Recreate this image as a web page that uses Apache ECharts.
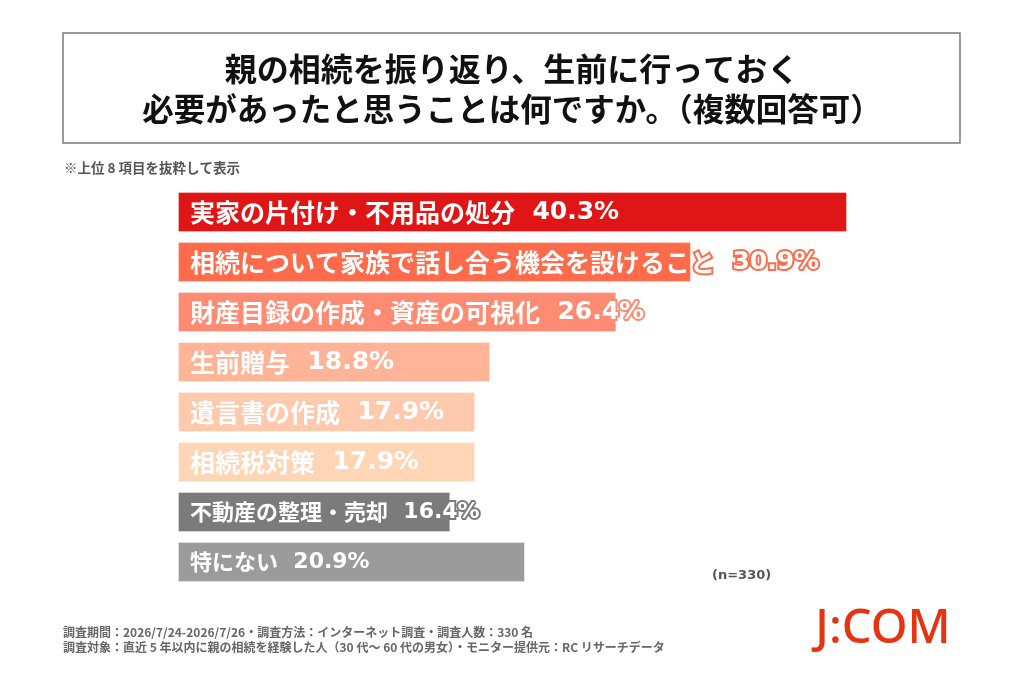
<!DOCTYPE html>
<html>
<head>
<meta charset="utf-8">
<script src="https://cdn.jsdelivr.net/npm/echarts@6/dist/echarts.min.js"></script>
<style>
html,body{margin:0;padding:0;background:#fff;}
#chart{width:1024px;height:683px;}
</style>
</head>
<body>
<div id="chart"></div>
<script>
const titleLines = ['親の相続を振り返り、生前に行っておく', '必要があったと思うことは何ですか。（複数回答可）'];
const noteText = '※上位 8 項目を抜粋して表示';
const categories = ['実家の片付け・不用品の処分', '相続について家族で話し合う機会を設けること', '財産目録の作成・資産の可視化', '生前贈与', '遺言書の作成', '相続税対策', '不動産の整理・売却', '特にない'];
const values = [40.3, 30.9, 26.4, 18.8, 17.9, 17.9, 16.4, 20.9];
const barColors = ['#E01515', '#FF6B4B', '#FF8B72', '#FFB497', '#FFC9AD', '#FFD6B5', '#7B7B7B', '#9B9B9B'];
const labelSizes = [25, 25, 25, 25, 25, 25, 22, 22];
const sampleText = '(n=330)';
const footerLines = ['調査期間：2026/7/24-2026/7/26・調査方法：インターネット調査・調査人数：330 名', '調査対象：直近 5 年以内に親の相続を経験した人（30 代～ 60 代の男女）・モニター提供元：RC リサーチデータ'];
const logoText = 'J:COM';

const FONT = '"Noto Sans CJK JP", "Noto Sans", sans-serif';
const NUMFONT = '"DejaVu Sans", sans-serif';
const chart = echarts.init(document.getElementById('chart'));

const seriesData = values.map((v, i) => ({
  value: v,
  itemStyle: { color: barColors[i], borderColor: 'rgba(255,255,255,0.35)', borderWidth: 1 },
  label: {
    rich: {
      n: { color: '#fff', fontSize: labelSizes[i], fontWeight: 'bold', fontFamily: FONT, textBorderColor: barColors[i], textBorderWidth: 4 },
      v: { color: '#fff', fontSize: labelSizes[i], fontWeight: 'bold', fontFamily: NUMFONT, textBorderColor: barColors[i], textBorderWidth: 4 }
    }
  }
}));

chart.setOption({
  backgroundColor: '#fff',
  animation: false,
  grid: { left: 178, top: 187, width: 830, height: 400, containLabel: false },
  xAxis: { type: 'value', min: 0, max: 50, show: false },
  yAxis: { type: 'category', data: categories, inverse: true, show: false },
  series: [{
    type: 'bar',
    data: seriesData,
    barWidth: 40,
    label: {
      show: true,
      position: 'insideLeft',
      distance: 12,
      formatter: p => '{n|' + p.name + '}{v|  ' + p.value.toFixed(1) + '%}'
    }
  }],
  graphic: [
    { type: 'rect', shape: { x: 63, y: 33, width: 897, height: 110 },
      style: { fill: '#fff', stroke: '#7a7a7a', lineWidth: 1.5 } },
    { type: 'text', x: 512, y: 69, style: { text: titleLines[0], fontSize: 32, fontWeight: 'bold', fontFamily: FONT, fill: '#111', align: 'center', verticalAlign: 'middle' } },
    { type: 'text', x: 512, y: 109, style: { text: titleLines[1], fontSize: 31.5, fontWeight: 'bold', fontFamily: FONT, fill: '#111', align: 'center', verticalAlign: 'middle' } },
    { type: 'text', x: 64, y: 168, style: { text: noteText, fontSize: 13.5, fontWeight: 'bold', fontFamily: FONT, fill: '#555', verticalAlign: 'middle' } },
    { type: 'text', x: 712, y: 576, style: { text: sampleText, fontSize: 13, fontWeight: 'bold', fontFamily: NUMFONT, fill: '#555', verticalAlign: 'middle' } },
    { type: 'text', x: 63, y: 632, style: { text: footerLines[0], fontSize: 12, fontWeight: 'bold', fontFamily: FONT, fill: '#666', verticalAlign: 'middle' } },
    { type: 'text', x: 63, y: 647, style: { text: footerLines[1], fontSize: 12, fontWeight: 'bold', fontFamily: FONT, fill: '#666', verticalAlign: 'middle' } },
    { type: 'text', x: 883, y: 630, style: { text: logoText, fontSize: 47, fontWeight: 500, fontFamily: '"Noto Sans", sans-serif', fill: '#E63312', align: 'center', verticalAlign: 'middle' } }
  ]
});
</script>
</body>
</html>
